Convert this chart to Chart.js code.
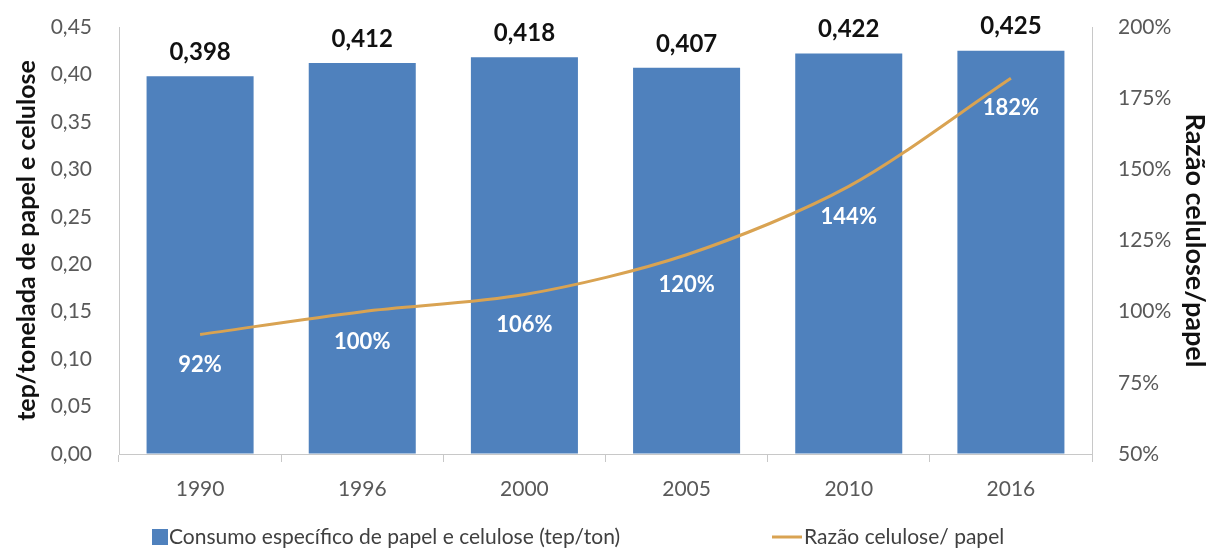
<!DOCTYPE html>
<html>
<head>
<meta charset="utf-8">
<script src="https://cdn.jsdelivr.net/npm/chart.js@4/dist/chart.umd.min.js"></script>
<style>
  html, body { margin: 0; padding: 0; background: #ffffff; }
  #wrap { width: 1213px; height: 551px; }
</style>
</head>
<body>
<div id="wrap"><canvas id="c" width="1213" height="551"></canvas></div>
<script>
// Years shown on the category axis
const years = ['1990', '1996', '2000', '2005', '2010', '2016'];
// Specific consumption, tep per tonne of paper and pulp
const consumo = [0.398, 0.412, 0.418, 0.407, 0.422, 0.425];
// Pulp / paper ratio, percent
const razao = [92, 100, 106, 120, 144, 182];
// Axis ranges
const leftTicks = { min: 0, max: 0.45, step: 0.05 };
const rightTicks = { min: 50, max: 200, step: 25 };

const FONT = 'Lato, "Open Sans", sans-serif';
const BAR_COLOR = '#4F81BD';
const LINE_COLOR = '#D9A352';
const AXIS_COLOR = '#C8C8C8';
const TICK_COLOR = '#595959';

const fmtComma = (v, d) => v.toFixed(d).replace('.', ',');

// Value labels above bars and below line points
const valueLabels = {
  id: 'valueLabels',
  afterDatasetsDraw(chart) {
    const ctx = chart.ctx;
    ctx.save();
    ctx.textAlign = 'center';
    ctx.textBaseline = 'middle';
    const barMeta = chart.getDatasetMeta(0);
    ctx.font = 'bold 24px ' + FONT;
    ctx.fillStyle = '#111111';
    barMeta.data.forEach((el, i) => {
      ctx.fillText(fmtComma(consumo[i], 3), el.x, el.y - 24);
    });
    const lineMeta = chart.getDatasetMeta(1);
    ctx.font = 'bold 22px ' + FONT;
    ctx.fillStyle = '#ffffff';
    lineMeta.data.forEach((el, i) => {
      ctx.fillText(razao[i] + '%', el.x, el.y + 30);
    });
    ctx.restore();
  }
};

// Legend row at the bottom of the canvas
const bottomLegend = {
  id: 'bottomLegend',
  afterDraw(chart) {
    const ctx = chart.ctx;
    const ds = chart.data.datasets;
    const y = 537;
    ctx.save();
    ctx.font = '21px ' + FONT;
    ctx.textBaseline = 'middle';
    ctx.textAlign = 'left';
    // bar series swatch
    ctx.fillStyle = ds[0].backgroundColor;
    ctx.fillRect(152, y - 8, 16, 16);
    ctx.fillStyle = '#404040';
    ctx.fillText(ds[0].label, 169, y);
    // line series swatch
    ctx.strokeStyle = ds[1].borderColor;
    ctx.lineWidth = 3;
    ctx.beginPath();
    ctx.moveTo(772, y);
    ctx.lineTo(802, y);
    ctx.stroke();
    ctx.fillText(ds[1].label, 804, y);
    ctx.restore();
  }
};

new Chart(document.getElementById('c'), {
  data: {
    labels: years,
    datasets: [
      {
        type: 'bar',
        label: 'Consumo específico de papel e celulose (tep/ton)',
        data: consumo,
        backgroundColor: BAR_COLOR,
        yAxisID: 'y',
        order: 2,
        barPercentage: 1,
        categoryPercentage: 0.66
      },
      {
        type: 'line',
        label: 'Razão celulose/ papel',
        data: razao,
        borderColor: LINE_COLOR,
        borderWidth: 3,
        pointRadius: 0,
        tension: 0.3,
        fill: false,
        yAxisID: 'y1',
        order: 1
      }
    ]
  },
  options: {
    responsive: false,
    animation: false,
    layout: { padding: { left: 12, right: 2, top: 27, bottom: 0 } },
    plugins: {
      legend: { display: false },
      tooltip: { enabled: false },
      title: { display: false }
    },
    scales: {
      x: {
        type: 'category',
        offset: true,
        grid: {
          offset: true,
          drawOnChartArea: false,
          drawTicks: true,
          tickLength: 8,
          color: AXIS_COLOR
        },
        border: { color: AXIS_COLOR, width: 1 },
        ticks: { color: TICK_COLOR, font: { family: FONT, size: 21 }, padding: 15 },
        afterFit(s) { s.height = 97; }
      },
      y: {
        position: 'left',
        min: leftTicks.min,
        max: leftTicks.max,
        grid: { drawOnChartArea: false, drawTicks: true, tickLength: 27, tickColor: 'rgba(0,0,0,0)' },
        border: { color: AXIS_COLOR, width: 1 },
        ticks: {
          stepSize: leftTicks.step,
          color: TICK_COLOR,
          font: { family: FONT, size: 21 },
          padding: 0,
          callback: (v) => fmtComma(v, 2)
        },
        title: {
          display: true,
          text: 'tep/tonelada de papel e celulose',
          color: '#111111',
          font: { family: FONT, size: 25, weight: 'bold' },
          padding: 0
        },
        afterFit(s) { s.width = 107; }
      },
      y1: {
        position: 'right',
        min: rightTicks.min,
        max: rightTicks.max,
        grid: { drawOnChartArea: false, drawTicks: true, tickLength: 26, tickColor: 'rgba(0,0,0,0)' },
        border: { color: AXIS_COLOR, width: 1 },
        ticks: {
          stepSize: rightTicks.step,
          color: TICK_COLOR,
          font: { family: FONT, size: 21 },
          padding: 0,
          callback: (v) => v + '%'
        },
        title: {
          display: true,
          text: 'Razão celulose/papel',
          color: '#111111',
          font: { family: FONT, size: 27, weight: 'bold' },
          padding: 0
        },
        afterFit(s) { s.width = 119; }
      }
    }
  },
  plugins: [valueLabels, bottomLegend]
});
</script>
</body>
</html>
